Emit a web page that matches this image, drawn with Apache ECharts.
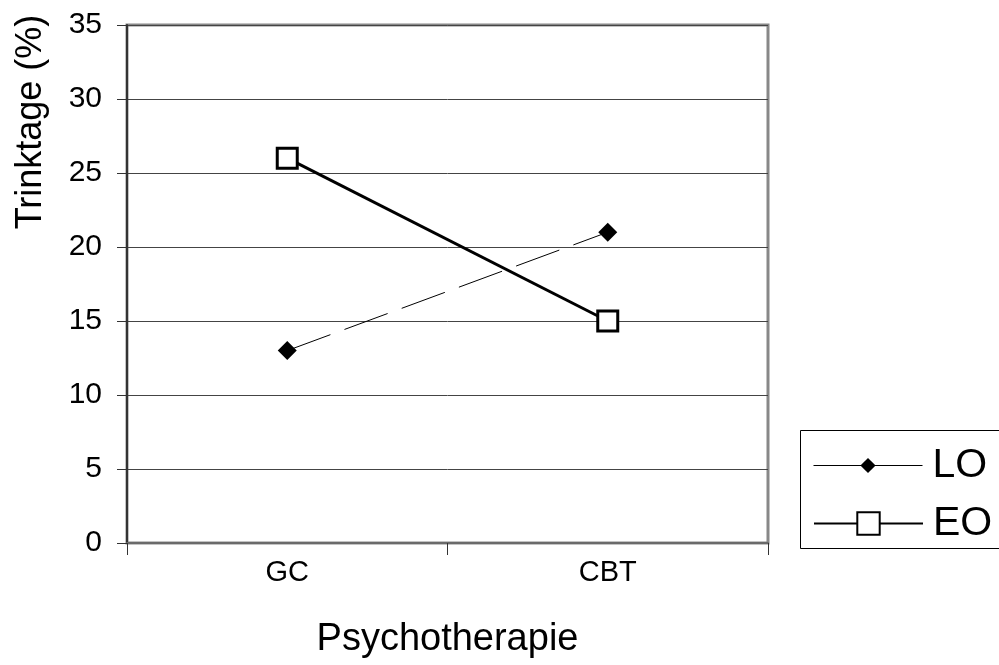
<!DOCTYPE html>
<html>
<head>
<meta charset="utf-8">
<script src="https://cdn.jsdelivr.net/npm/echarts@6/dist/echarts.min.js"></script>
<style>
html,body{margin:0;padding:0;background:#fff;}
#chart{width:999px;height:665px;}
</style>
</head>
<body>
<div id="chart"></div>
<script>
const categories = ['GC', 'CBT'];
const seriesNames = ['LO', 'EO'];
const loValues = [13, 21];
const eoValues = [26, 15];
const yTicks = [0, 5, 10, 15, 20, 25, 30, 35];
const xTitle = 'Psychotherapie';
const yTitle = 'Trinktage (%)';

const FONT = "'Liberation Sans', Arial, sans-serif";
const chart = echarts.init(document.getElementById('chart'), null, {renderer: 'canvas'});
chart.setOption({
  animation: false,
  backgroundColor: '#fff',
  grid: {left: 127, right: 231, top: 25, bottom: 122, show: true, borderColor: '#888', borderWidth: 3, backgroundColor: '#fff'},
  xAxis: {
    type: 'category',
    data: categories,
    boundaryGap: true,
    axisLine: {lineStyle: {color: '#6a6a6a', width: 2}},
    axisTick: {show: true, length: 12, lineStyle: {color: '#333', width: 1}},
    axisLabel: {color: '#000', fontFamily: FONT, fontSize: 29, margin: 15},
    name: xTitle,
    nameLocation: 'middle',
    nameGap: 78,
    nameTextStyle: {color: '#000', fontFamily: FONT, fontSize: 38}
  },
  yAxis: {
    type: 'value',
    min: yTicks[0],
    max: yTicks[yTicks.length - 1],
    interval: yTicks[1] - yTicks[0],
    axisLine: {show: true, lineStyle: {color: '#333', width: 2}},
    axisTick: {show: true, length: 10, lineStyle: {color: '#333', width: 1}},
    axisLabel: {color: '#000', fontFamily: FONT, fontSize: 30, margin: 25},
    splitLine: {show: true, lineStyle: {color: '#444', width: 1}}
  },
  legend: [
    {
      data: [seriesNames[0]], left: 813, top: 445, padding: 0,
      itemWidth: 109, itemHeight: 19,
      lineStyle: {type: 'solid', width: 1},
      textStyle: {color: '#000', fontFamily: FONT, fontSize: 41, padding: [0, 0, 0, 5]},
      selectedMode: false
    },
    {
      data: [seriesNames[1]], left: 813, top: 503, padding: 0,
      itemWidth: 109, itemHeight: 28,
      textStyle: {color: '#000', fontFamily: FONT, fontSize: 41, padding: [0, 0, 0, 5]},
      selectedMode: false
    }
  ],
  graphic: [
    {type: 'rect', z: 0, shape: {x: 800.5, y: 430.5, width: 220, height: 118}, style: {fill: '#fff', stroke: '#000', lineWidth: 1}},
    {type: 'text', z: 10, x: 31, y: 122, rotation: Math.PI / 2,
     style: {text: yTitle, fill: '#000', font: "36px 'Liberation Sans', Arial, sans-serif", align: 'center', verticalAlign: 'middle'}}
  ],
  series: [
    {
      name: seriesNames[0], type: 'line', data: loValues,
      symbol: 'diamond', symbolSize: 19,
      itemStyle: {color: '#000'},
      lineStyle: {color: '#000', width: 1, type: [46, 15]},
      emphasis: {disabled: true}
    },
    {
      name: seriesNames[1], type: 'line', data: eoValues,
      symbol: 'rect', symbolSize: 20,
      itemStyle: {color: '#fff', borderColor: '#000', borderWidth: 3},
      lineStyle: {color: '#000', width: 3},
      emphasis: {disabled: true}
    }
  ]
});
</script>
</body>
</html>
